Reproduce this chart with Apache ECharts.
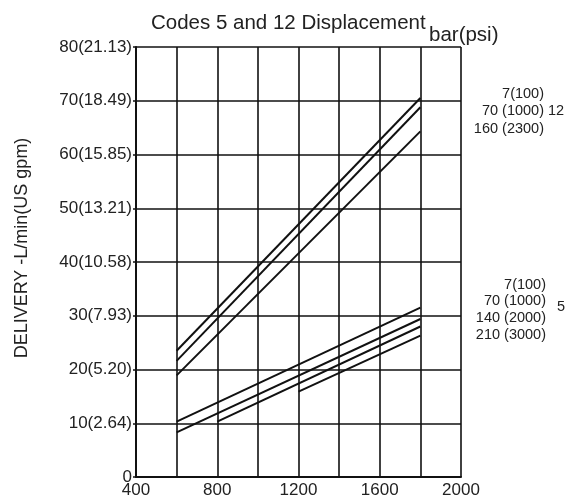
<!DOCTYPE html>
<html>
<head>
<meta charset="utf-8">
<script src="https://cdn.jsdelivr.net/npm/echarts@6/dist/echarts.min.js"></script>
<style>html,body{margin:0;padding:0;background:#fff;}#c{width:567px;height:501px;}</style>
</head>
<body>
<div id="c"></div>
<script>
// X axis (speed) ticks and Y axis ticks
var xTicks = [400, 800, 1200, 1600, 2000];
var yTickLabels = ['0', '10(2.64)', '20(5.20)', '30(7.93)', '40(10.58)', '50(13.21)', '60(15.85)', '70(18.49)', '80(21.13)'];

// Code 12 displacement lines (speed, L/min)
var code12_7bar = [[600, 23.5], [1800, 70.5]];
var code12_70bar = [[600, 21.6], [1800, 68.8]];
var code12_160bar = [[600, 18.9], [1800, 64.3]];

// Code 5 displacement lines
var code5_7bar = [[600, 10.3], [1800, 31.5]];
var code5_70bar = [[600, 8.3], [1800, 29.4]];
var code5_140bar = [[800, 10.3], [1800, 28.0]];
var code5_210bar = [[1200, 15.9], [1800, 26.3]];

var code12Labels = ['7(100)', '70 (1000)', '160 (2300)'];
var code5Labels = ['7(100)', '70 (1000)', '140 (2000)', '210 (3000)'];

var chart = echarts.init(document.getElementById('c'), null, {renderer: 'canvas'});
var txtColor = '#222';
var font = 'Liberation Sans, Arial, sans-serif';

function mk(name, data) {
  return {
    name: name, type: 'line', data: data, showSymbol: false, symbol: 'none',
    lineStyle: {color: '#111', width: 2}, silent: true, animation: false
  };
}

var graphics = [];
code12Labels.forEach(function (t, i) {
  graphics.push({type: 'text', right: 23, top: 86 + i * 17.5, style: {text: t, fill: txtColor, font: '14.5px ' + font, textAlign: 'right'}});
});
graphics.push({type: 'text', left: 548, top: 103.5, style: {text: '12', fill: txtColor, font: '14.5px ' + font}});
code5Labels.forEach(function (t, i) {
  graphics.push({type: 'text', right: 21, top: 277 + i * 16.7, style: {text: t, fill: txtColor, font: '14.5px ' + font, textAlign: 'right'}});
});
graphics.push({type: 'text', left: 557, top: 299, style: {text: '5', fill: txtColor, font: '14.5px ' + font}});

chart.setOption({
  animation: false,
  backgroundColor: '#fff',
  title: [
    {text: 'Codes 5 and 12 Displacement', left: 146, top: 8, textStyle: {fontSize: 20.5, fontWeight: 'normal', color: txtColor, fontFamily: font}},
    {text: 'bar(psi)', left: 424, top: 20, textStyle: {fontSize: 20.5, fontWeight: 'normal', color: txtColor, fontFamily: font}}
  ],
  grid: {left: 136, right: 106, top: 47, bottom: 24, containLabel: false, outerBoundsMode: 'none'},
  xAxis: {
    type: 'value', min: 400, max: 2000, interval: 200,
    axisLine: {show: true, lineStyle: {color: '#111', width: 2}},
    axisTick: {show: false},
    splitLine: {show: true, lineStyle: {color: '#111', width: 1.6}},
    axisLabel: {
      color: txtColor, fontSize: 17, fontFamily: font, margin: 5,
      formatter: function (v) { return xTicks.indexOf(v) >= 0 ? String(v) : ''; }
    }
  },
  yAxis: {
    type: 'value', min: 0, max: 80, interval: 10,
    name: 'DELIVERY -L/min(US gpm)', nameLocation: 'middle', nameGap: 105, nameRotate: 90,
    nameTextStyle: {color: txtColor, fontSize: 18, fontFamily: font, padding: [0, 0, 0, 28]},
    axisLine: {show: true, lineStyle: {color: '#111', width: 2}},
    axisTick: {show: true, length: 3, lineStyle: {color: '#111', width: 1.5}},
    splitLine: {show: true, lineStyle: {color: '#111', width: 1.6}},
    axisLabel: {
      color: txtColor, fontSize: 17, fontFamily: font, margin: 4,
      formatter: function (v) { return yTickLabels[Math.round(v / 10)]; }
    }
  },
  graphic: graphics,
  series: [
    mk('12-7', code12_7bar), mk('12-70', code12_70bar), mk('12-160', code12_160bar),
    mk('5-7', code5_7bar), mk('5-70', code5_70bar), mk('5-140', code5_140bar), mk('5-210', code5_210bar)
  ]
});
</script>
</body>
</html>
